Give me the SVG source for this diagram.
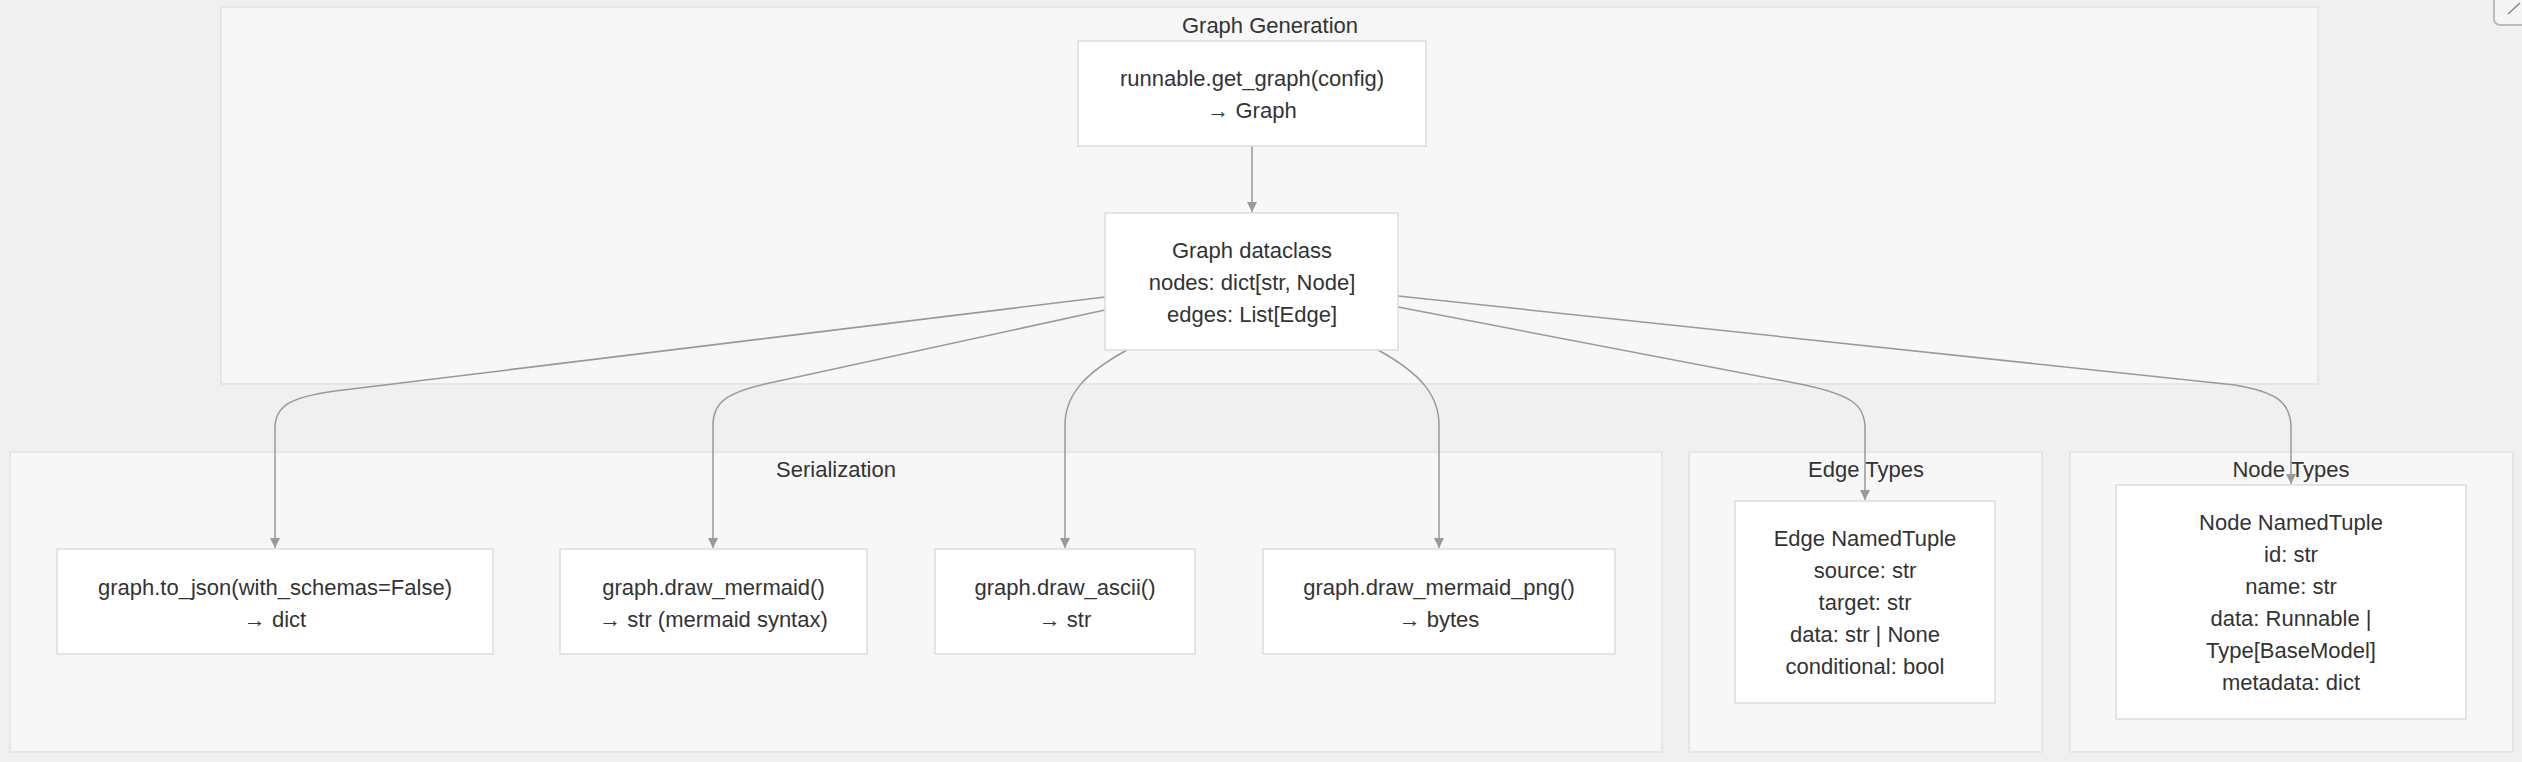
<svg xmlns="http://www.w3.org/2000/svg" width="2522" height="762" viewBox="0 0 2522 762">
<defs>
<style>
.cluster{fill:#f7f7f7;stroke:#e1e1e1;stroke-width:1.5}
.node rect{fill:#ffffff;stroke:#dddddd;stroke-width:1.5}
text{font-family:"Liberation Sans",Arial,sans-serif;font-size:22px;fill:#333333;text-anchor:middle}
.edge{fill:none;stroke:#999999;stroke-width:1.5}
</style>
<marker id="arrow" viewBox="0 0 10 10" refX="10" refY="5" markerWidth="10" markerHeight="10" markerUnits="userSpaceOnUse" orient="auto">
<path d="M0,0 L10,5 L0,10 z" fill="#999999"/>
</marker>
</defs>
<rect x="0" y="0" width="2522" height="762" fill="#f0f0f0"/>
<g id="icon">
<rect x="2494" y="-12" width="42" height="37" rx="6" fill="#f5f5f5" stroke="#bbbbbb" stroke-width="2"/>
<line x1="2508" y1="14" x2="2520" y2="3" stroke="#888888" stroke-width="1.5"/>
</g>
<g id="cluster-generation">
<rect class="cluster" x="221" y="7" width="2097" height="377"/>
<text x="1270" y="33">Graph Generation</text>
</g>
<g id="cluster-serialization">
<rect class="cluster" x="10" y="452" width="1652" height="300"/>
<text x="836" y="477">Serialization</text>
</g>
<g id="cluster-edge-types">
<rect class="cluster" x="1689" y="452" width="353" height="300"/>
<text x="1866" y="477">Edge Types</text>
</g>
<g id="cluster-node-types">
<rect class="cluster" x="2070" y="452" width="443" height="300"/>
<text x="2291" y="477">Node Types</text>
</g>
<g id="connectors">
<path class="edge" d="M1252,146 L1252,212" marker-end="url(#arrow)"/>
<path class="edge" d="M1105,297 L335,391 C292,397 275,405 275,428 L275,548" marker-end="url(#arrow)"/>
<path class="edge" d="M1105,310 L765,384 C727,393 713,402 713,425 L713,548" marker-end="url(#arrow)"/>
<path class="edge" d="M1127,350 C1085,373 1065,395 1065,425 L1065,548" marker-end="url(#arrow)"/>
<path class="edge" d="M1378,350 C1420,373 1439,395 1439,425 L1439,548" marker-end="url(#arrow)"/>
<path class="edge" d="M1398,307 L1805,385 C1850,395 1865,404 1865,428 L1865,500" marker-end="url(#arrow)"/>
<path class="edge" d="M1398,296 L2235,385 C2276,392 2291,402 2291,428 L2291,484" marker-end="url(#arrow)"/>
</g>
<g id="node-get-graph" class="node">
<rect x="1078" y="41" width="348" height="105"/>
<text x="1252" y="86">runnable.get_graph(config)</text>
<text x="1252" y="118">→ Graph</text>
</g>
<g id="node-graph" class="node">
<rect x="1105" y="213" width="293" height="137"/>
<text x="1252" y="258">Graph dataclass</text>
<text x="1252" y="290">nodes: dict[str, Node]</text>
<text x="1252" y="322">edges: List[Edge]</text>
</g>
<g id="node-to-json" class="node">
<rect x="57" y="549" width="436" height="105"/>
<text x="275" y="595">graph.to_json(with_schemas=False)</text>
<text x="275" y="627">→ dict</text>
</g>
<g id="node-draw-mermaid" class="node">
<rect x="560" y="549" width="307" height="105"/>
<text x="713.5" y="595">graph.draw_mermaid()</text>
<text x="713.5" y="627">→ str (mermaid syntax)</text>
</g>
<g id="node-draw-ascii" class="node">
<rect x="935" y="549" width="260" height="105"/>
<text x="1065" y="595">graph.draw_ascii()</text>
<text x="1065" y="627">→ str</text>
</g>
<g id="node-draw-png" class="node">
<rect x="1263" y="549" width="352" height="105"/>
<text x="1439" y="595">graph.draw_mermaid_png()</text>
<text x="1439" y="627">→ bytes</text>
</g>
<g id="node-edge" class="node">
<rect x="1735" y="501" width="260" height="202"/>
<text x="1865" y="546">Edge NamedTuple</text>
<text x="1865" y="578">source: str</text>
<text x="1865" y="610">target: str</text>
<text x="1865" y="642">data: str | None</text>
<text x="1865" y="674">conditional: bool</text>
</g>
<g id="node-node" class="node">
<rect x="2116" y="485" width="350" height="234"/>
<text x="2291" y="530">Node NamedTuple</text>
<text x="2291" y="562">id: str</text>
<text x="2291" y="594">name: str</text>
<text x="2291" y="626">data: Runnable |</text>
<text x="2291" y="658">Type[BaseModel]</text>
<text x="2291" y="690">metadata: dict</text>
</g>
</svg>
